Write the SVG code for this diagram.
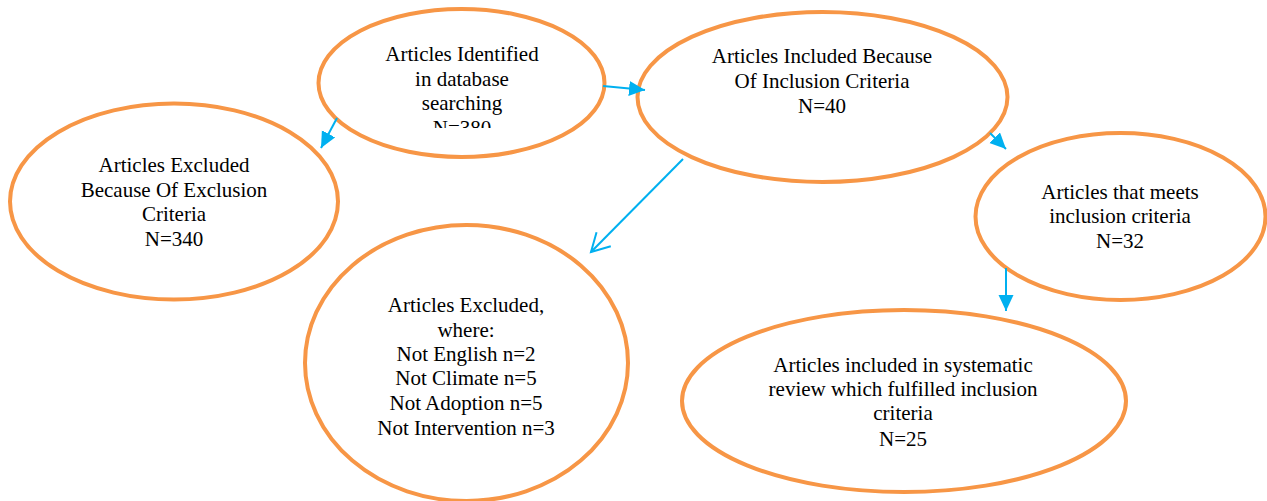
<svg xmlns="http://www.w3.org/2000/svg" width="1267" height="501" viewBox="0 0 1267 501">
  <style>
    .node ellipse { fill: #FFFFFF; stroke: #F79646; stroke-width: 4; }
    .node text { font-family: 'Liberation Serif', 'DejaVu Serif', serif; font-size: 21px; fill: #000000; text-anchor: middle; }
    .edge { stroke: #00B0F0; stroke-width: 2; fill: none; }
  </style>
  <defs>
    <marker id="head" markerUnits="userSpaceOnUse" markerWidth="18" markerHeight="16" refX="16" refY="7.5" orient="auto">
      <path d="M0,0 L16,7.5 L0,15 Z" fill="#00B0F0"/>
    </marker>
    <marker id="open" markerUnits="userSpaceOnUse" markerWidth="24" markerHeight="24" refX="19" refY="11" orient="auto">
      <polyline points="1,1 19,11 1,21" fill="none" stroke="#00B0F0" stroke-width="2"/>
    </marker>
    <clipPath id="clip1">
      <rect x="318" y="0" width="287" height="128"/>
    </clipPath>
  </defs>
  <rect x="0" y="0" width="1267" height="501" fill="#FFFFFF"/>

  <g id="identified" class="node">
    <ellipse cx="461.5" cy="83" rx="143" ry="74"/>
    <g clip-path="url(#clip1)">
      <text x="462" y="61">Articles Identified</text>
      <text x="462" y="86">in database</text>
      <text x="462" y="110">searching</text>
      <text x="462" y="135">N=380</text>
    </g>
  </g>

  <g id="included" class="node">
    <ellipse cx="822.5" cy="97" rx="185" ry="85"/>
    <text x="822" y="63">Articles Included Because</text>
    <text x="822" y="88">Of Inclusion Criteria</text>
    <text x="822" y="113">N=40</text>
  </g>

  <g id="excluded-criteria" class="node">
    <ellipse cx="174" cy="201.5" rx="164" ry="98"/>
    <text x="174" y="172">Articles Excluded</text>
    <text x="174" y="197">Because Of Exclusion</text>
    <text x="174" y="221">Criteria</text>
    <text x="174" y="246">N=340</text>
  </g>

  <g id="excluded-where" class="node">
    <ellipse cx="466.5" cy="363" rx="161.5" ry="138"/>
    <text x="466" y="312">Articles Excluded,</text>
    <text x="466" y="337">where:</text>
    <text x="466" y="361">Not English n=2</text>
    <text x="466" y="385">Not Climate n=5</text>
    <text x="466" y="410">Not Adoption n=5</text>
    <text x="466" y="435">Not Intervention n=3</text>
  </g>

  <g id="meets" class="node">
    <ellipse cx="1120.5" cy="216.5" rx="145" ry="83.5"/>
    <text x="1120" y="199">Articles that meets</text>
    <text x="1120" y="223">inclusion criteria</text>
    <text x="1120" y="248">N=32</text>
  </g>

  <g id="review" class="node">
    <ellipse cx="904" cy="401" rx="222" ry="91"/>
    <text x="903" y="372">Articles included in systematic</text>
    <text x="903" y="396">review which fulfilled inclusion</text>
    <text x="903" y="420">criteria</text>
    <text x="903" y="446">N=25</text>
  </g>

  <g id="connectors">
    <line class="edge" x1="337" y1="118" x2="321" y2="148" marker-end="url(#head)"/>
    <line class="edge" x1="603" y1="86" x2="645" y2="90" marker-end="url(#head)"/>
    <line class="edge" x1="683" y1="159" x2="591" y2="252" marker-end="url(#open)"/>
    <line class="edge" x1="990" y1="133" x2="1006" y2="149" marker-end="url(#head)"/>
    <line class="edge" x1="1006" y1="268" x2="1006" y2="311" marker-end="url(#head)"/>
  </g>
</svg>
